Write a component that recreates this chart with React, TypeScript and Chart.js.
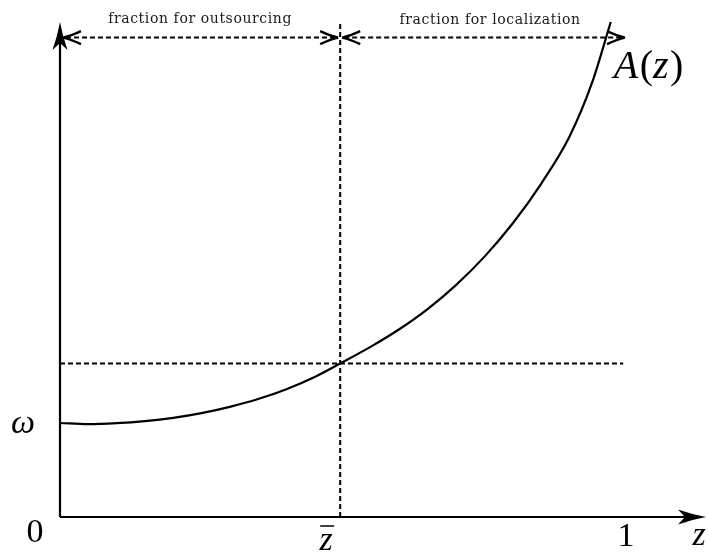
import React, { useEffect, useRef } from "react";
import { Chart, registerables } from "chart.js";

Chart.register(...registerables);

// ---- data ----
const zValues = [0, 0.05, 0.1, 0.15, 0.2, 0.25, 0.3, 0.35, 0.4, 0.45, 0.495, 0.55, 0.6, 0.65, 0.7, 0.75, 0.8, 0.85, 0.9, 0.94, 0.973];
const aValues = [1.0, 0.988, 0.998, 1.02, 1.055, 1.105, 1.172, 1.255, 1.36, 1.49, 1.633, 1.815, 2.0, 2.215, 2.47, 2.77, 3.125, 3.545, 4.045, 4.62, 5.266];
const zBar = 0.495;
const aAtZBar = 1.633;
const omega = 1.0;
const guideEndZ = 0.995;
const dimY = 5.1;
const xMax = 1.1413;
const yMax = 5.266;
const xTickLabels = ["0", "z", "1"];
const fractionLabels = ["fraction for outsourcing", "fraction for localization"];
const curveLabel = "A(z)";
const axisLabel = "z";
const omegaLabel = "\u03c9";

const MATH = '"Liberation Serif", "DejaVu Serif", serif';
const SMALL = '"DejaVu Serif", serif';

function filledArrow(ctx: CanvasRenderingContext2D, tx: number, ty: number, dx: number, dy: number) {
  const len = 28, half = 7.5;
  const px = -dy, py = dx;
  const bx = tx - dx * len, by = ty - dy * len;
  ctx.beginPath();
  ctx.moveTo(tx, ty);
  ctx.quadraticCurveTo(tx - dx * len * 0.5 + px * 2.5, ty - dy * len * 0.5 + py * 2.5, bx + px * half, by + py * half);
  ctx.lineTo(tx - dx * len * 0.75, ty - dy * len * 0.75);
  ctx.lineTo(bx - px * half, by - py * half);
  ctx.quadraticCurveTo(tx - dx * len * 0.5 - px * 2.5, ty - dy * len * 0.5 - py * 2.5, tx, ty);
  ctx.closePath();
  ctx.fill();
}

function openArrow(ctx: CanvasRenderingContext2D, tx: number, ty: number, dx: number, dy: number) {
  const len = 18, half = 6.5;
  const px = -dy, py = dx;
  ctx.beginPath();
  for (const s of [1, -1]) {
    ctx.moveTo(tx - dx * len + px * half * s, ty - dy * len + py * half * s);
    ctx.quadraticCurveTo(tx - dx * 8 + px * 1.8 * s, ty - dy * 8 + py * 1.8 * s, tx, ty);
  }
  ctx.stroke();
}

const overlay = {
  id: "overlay",
  afterDraw(chart: any) {
    const ctx: CanvasRenderingContext2D = chart.ctx;
    const xs = chart.scales.x, ys = chart.scales.y;
    const X = (v: number) => xs.getPixelForValue(v);
    const Y = (v: number) => ys.getPixelForValue(v);
    ctx.save();
    ctx.strokeStyle = "#000";
    ctx.fillStyle = "#000";
    ctx.lineCap = "butt";

    // axes
    ctx.lineWidth = 2.2;
    ctx.setLineDash([]);
    ctx.beginPath();
    ctx.moveTo(X(0), Y(0));
    ctx.lineTo(X(xMax) - 20, Y(0));
    ctx.moveTo(X(0), Y(0));
    ctx.lineTo(X(0), Y(yMax) + 20);
    ctx.stroke();
    filledArrow(ctx, X(xMax), Y(0), 1, 0);
    filledArrow(ctx, X(0), Y(yMax), 0, -1);

    // dimension lines
    const yd = Y(dimY);
    ctx.lineWidth = 2;
    ctx.setLineDash([5, 3]);
    ctx.beginPath();
    ctx.moveTo(X(0) + 6, yd);
    ctx.lineTo(X(zBar) - 4, yd);
    ctx.moveTo(X(zBar) + 4, yd);
    ctx.lineTo(X(1) - 4, yd);
    ctx.stroke();
    ctx.setLineDash([]);
    ctx.lineWidth = 2.4;
    openArrow(ctx, X(0) + 3, yd, -1, 0);
    openArrow(ctx, X(zBar) - 2, yd, 1, 0);
    openArrow(ctx, X(zBar) + 2, yd, -1, 0);
    openArrow(ctx, X(1) - 1, yd, 1, 0);

    // small labels
    ctx.font = `14px ${SMALL}`;
    (ctx as any).letterSpacing = "0.6px";
    ctx.textAlign = "center";
    ctx.textBaseline = "alphabetic";
    ctx.fillStyle = "#1a1a1a";
    ctx.fillText(fractionLabels[0], (X(0) + X(zBar)) / 2, yd - 15);
    ctx.fillText(fractionLabels[1], (X(zBar) + X(1)) / 2 + 7, yd - 14);
    (ctx as any).letterSpacing = "0px";
    ctx.fillStyle = "#000";

    // tick labels
    ctx.font = `34px ${MATH}`;
    ctx.fillText(xTickLabels[0], X(0) - 25, Y(0) + 25);
    ctx.fillText(xTickLabels[2], X(1), Y(0) + 29);
    ctx.font = `italic 34px ${MATH}`;
    const zbx = X(zBar) - 14;
    ctx.fillText(xTickLabels[1], zbx, Y(0) + 33);
    ctx.lineWidth = 1.5;
    ctx.beginPath();
    ctx.moveTo(zbx - 6, Y(0) + 9);
    ctx.lineTo(zbx + 8, Y(0) + 9);
    ctx.stroke();
    ctx.fillText(axisLabel, X(xMax) - 7, Y(0) + 28);
    ctx.fillText(omegaLabel, X(0) - 37, Y(omega) + 10);

    // A(z)
    const lastZ = zValues[zValues.length - 1];
    const lastA = aValues[aValues.length - 1];
    let cx = X(lastZ) + 3;
    const by = Y(lastA) + 56;
    ctx.textAlign = "left";
    const italicFlags = [true, false, true, false];
    for (let i = 0; i < curveLabel.length; i++) {
      const ch = curveLabel[i];
      const it = italicFlags[i];
      ctx.font = `${it ? "italic " : ""}40px ${MATH}`;
      ctx.fillText(ch, cx, by);
      cx += ctx.measureText(ch).width + (it ? 1.5 : 0);
    }
    ctx.restore();
  },
};

export default function App() {
  const ref = useRef<HTMLCanvasElement | null>(null);
  useEffect(() => {
    if (!ref.current) return;
    const curve = zValues.map((z, i) => ({ x: z, y: aValues[i] }));
    const chart = new Chart(ref.current, {
      type: "scatter",
      data: {
        datasets: [
          {
            data: curve,
            showLine: true,
            borderColor: "#000",
            borderWidth: 2.2,
            pointRadius: 0,
            cubicInterpolationMode: "monotone",
            clip: false as any,
          },
          {
            data: [{ x: 0, y: aAtZBar }, { x: guideEndZ, y: aAtZBar }],
            showLine: true,
            borderColor: "#000",
            borderWidth: 2,
            borderDash: [5, 3],
            pointRadius: 0,
            clip: false as any,
          },
          {
            data: [{ x: zBar, y: 0 }, { x: zBar, y: yMax }],
            showLine: true,
            borderColor: "#000",
            borderWidth: 2,
            borderDash: [5, 3],
            pointRadius: 0,
            clip: false as any,
          },
        ],
      },
      options: {
        animation: false,
        responsive: false,
        layout: { padding: { left: 60, right: 2, top: 22, bottom: 35 } },
        plugins: { legend: { display: false }, tooltip: { enabled: false }, title: { display: false } },
        scales: {
          x: { type: "linear", min: 0, max: xMax, display: false },
          y: { type: "linear", min: 0, max: yMax, display: false },
        },
      },
      plugins: [overlay],
    });
    return () => chart.destroy();
  }, []);
  return (
    <div style={{ position: "fixed", left: 0, top: 0, width: 708, height: 552, background: "#fff" }}>
      <canvas ref={ref} width={708} height={552} style={{ width: 708, height: 552, display: "block" }} />
    </div>
  );
}
